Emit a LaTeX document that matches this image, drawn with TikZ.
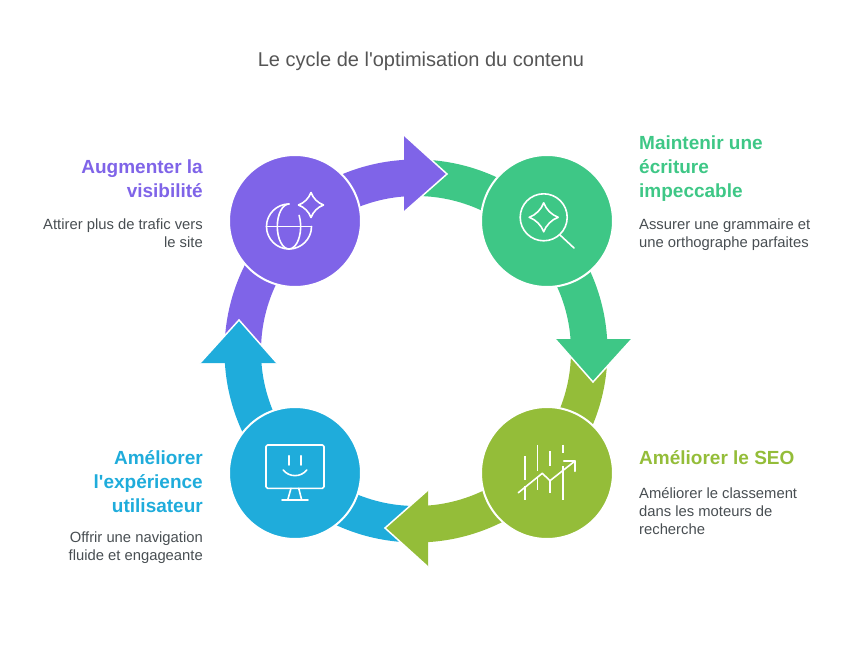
\documentclass[tikz,border=0pt]{standalone}
\usepackage{fontspec}
\setmainfont{Liberation Sans}[Ligatures=TeXOff]
\usepackage{xcolor}
\definecolor{titlecolor}{RGB}{85, 85, 85}
\definecolor{bodycolor}{RGB}{72, 78, 82}
\definecolor{visicolor}{RGB}{127, 100, 232}
\definecolor{writecolor}{RGB}{62, 199, 134}
\definecolor{seocolor}{RGB}{148, 189, 57}
\definecolor{uxcolor}{RGB}{31, 172, 219}
\tikzset{
  stagecircle/.style={circle, draw=white, line width=2pt, minimum size=132pt, inner sep=0pt, outer sep=0pt},
  headlabel/.style={font=\fontsize{19}{24}\selectfont\bfseries, inner sep=0pt},
  bodylabel/.style={font=\fontsize{14.8}{18}\selectfont, text=bodycolor, inner sep=0pt},
  iconline/.style={draw=white, line width=1.6pt, line cap=round, line join=round},
}
\newcommand{\sparkleicon}[2]{%
  \draw[iconline, shift={(#1)}, scale=#2]
    (0,1) .. controls (0.16,0.55) and (0.55,0.16) .. (1,0)
    .. controls (0.55,-0.16) and (0.16,-0.55) .. (0,-1)
    .. controls (-0.16,-0.55) and (-0.55,-0.16) .. (-1,0)
    .. controls (-0.55,0.16) and (-0.16,0.55) .. cycle;}

\begin{document}
\begin{tikzpicture}[x=1pt, y=1pt]
  \useasboundingbox (-416,-302) rectangle (426,351);

  % ---------- Ring arrows: bands first, heads on top ----------
  \foreach \rot/\col in {0/visicolor, -90/writecolor, -180/seocolor, -270/uxcolor} {
    \fill[\col, rotate=\rot] (180:155) arc[start angle=180, end angle=92, radius=155]
      -- (92:191.5) arc[start angle=92, end angle=180, radius=191.5] -- cycle;
  }
  \foreach \rot/\col in {0/visicolor, -90/writecolor, -180/seocolor, -270/uxcolor} {
    \fill[\col, rotate=\rot] (-12,216) -- (31,177) -- (-12,139) -- cycle;
    \draw[white, line width=1.5pt, rotate=\rot] (-12,216) -- (31,177) -- (-12,139);
  }

  % ---------- Stage circles ----------
  \node[stagecircle, fill=visicolor] (visi) at (-121,130) {};
  \node[stagecircle, fill=writecolor] (write) at (131,130) {};
  \node[stagecircle, fill=seocolor] (seo) at (131,-122) {};
  \node[stagecircle, fill=uxcolor] (ux) at (-121,-122) {};

  % ---------- Globe and sparkle ----------
  \begin{scope}[shift={(visi.center)}]
    \draw[iconline] (-6,17) arc[start angle=90, end angle=360, radius=22.5];
    \draw[iconline] (-28.5,-5.5) -- (16.5,-5.5);
    \draw[iconline] (-6,17) arc[start angle=90, end angle=270, x radius=11.7, y radius=22.5];
    \draw[iconline] (4.1,5.7) arc[start angle=30, end angle=-90, x radius=11.7, y radius=22.5];
    \sparkleicon{16,16}{12.5}
  \end{scope}

  % ---------- Magnifier ----------
  \begin{scope}[shift={(write.center)}]
    \draw[iconline] (-3.3,3.7) circle[radius=23.5];
    \draw[iconline] (13,-14) -- (27,-27);
    \sparkleicon{-3.3,3.7}{14.5}
  \end{scope}

  % ---------- Bars and rising line ----------
  \begin{scope}[shift={(seo.center)}]
    \draw[iconline, line cap=butt] (-22,16.7) -- (-22,-6.7) (-22,-13.3) -- (-22,-26.7);
    \draw[iconline, line cap=butt] (-9.7,28.3) -- (-9.7,1.7) (-9.7,-5) -- (-9.7,-16.7);
    \draw[iconline, line cap=butt] (3,21.7) -- (3,6.7) (3,-6.7) -- (3,-20);
    \draw[iconline, line cap=butt] (15.7,28.3) -- (15.7,20) (15.7,6.7) -- (15.7,-26.7);
    \draw[iconline] (-28.7,-19.7) -- (-4.7,-0.3) -- (3,-7.7) -- (28,12);
    \draw[iconline] (16.7,12) -- (28,12) -- (28,1.7);
  \end{scope}

  % ---------- Smiling monitor ----------
  \begin{scope}[shift={(ux.center)}]
    \draw[iconline, rounded corners=1.5pt] (-29,-15.3) rectangle (29,28);
    \draw[iconline] (-6,17.3) -- (-6,8) (6,17.3) -- (6,8);
    \draw[iconline] (-11.7,3) .. controls (-6,-4.5) and (6,-4.5) .. (11.7,3);
    \draw[iconline] (-4,-15.3) -- (-7.3,-27) (3.7,-15.3) -- (6.7,-27) (-13,-27) -- (13,-27);
  \end{scope}

  % ---------- Title and labels ----------
  \node[font=\fontsize{20}{24}\selectfont, text=titlecolor, inner sep=0pt] (title) at (5,289.5) {Le cycle de l'optimisation du contenu};

  \node[headlabel, text=visicolor, align=right, anchor=north east] (visihead) at (-213,191) {Augmenter la\\visibilité};
  \node[bodylabel, align=right, anchor=north east] (visibody) at (-213,132) {Attirer plus de trafic vers\\le site};

  \node[headlabel, text=writecolor, align=left, anchor=north west] (writehead) at (223,215) {Maintenir une\\écriture\\impeccable};
  \node[bodylabel, align=left, anchor=north west] (writebody) at (223,132) {Assurer une grammaire et\\une orthographe parfaites};

  \node[headlabel, text=seocolor, align=left, anchor=north west] (seohead) at (223,-99) {Améliorer le SEO};
  \node[bodylabel, align=left, anchor=north west] (seobody) at (223,-136) {Améliorer le classement\\dans les moteurs de\\recherche};

  \node[headlabel, text=uxcolor, align=right, anchor=north east] (uxhead) at (-213,-99) {Améliorer\\l'expérience\\utilisateur};
  \node[bodylabel, align=right, anchor=north east] (uxbody) at (-213,-181) {Offrir une navigation\\fluide et engageante};

\end{tikzpicture}
\end{document}
